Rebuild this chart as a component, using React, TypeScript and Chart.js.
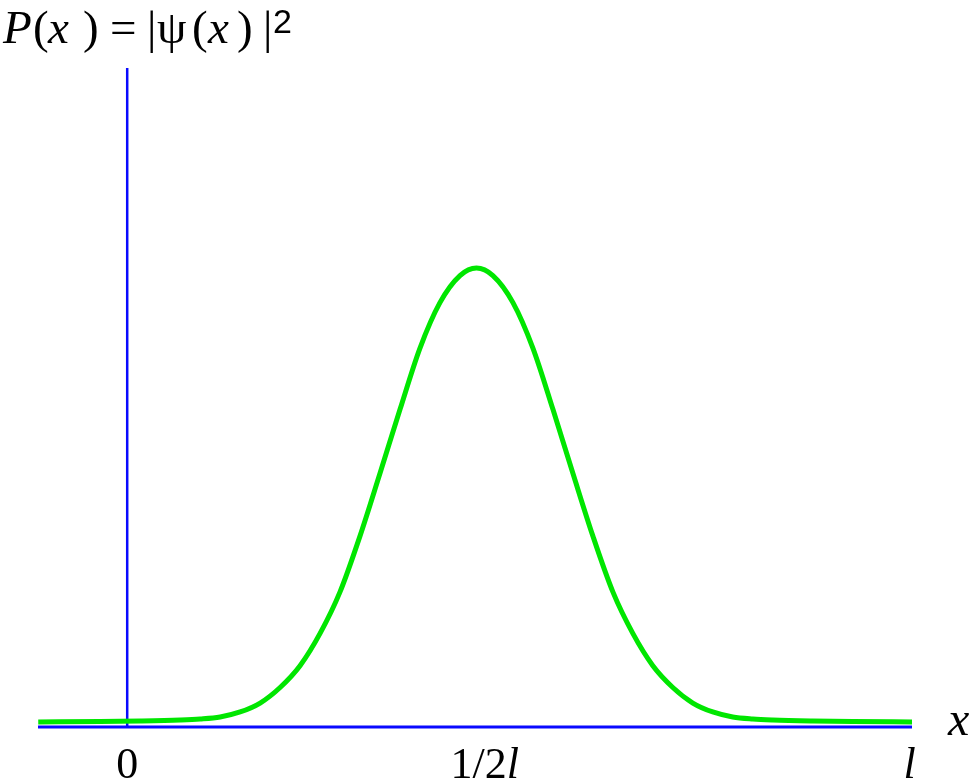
import React, { useEffect, useRef } from "react";
import { Chart, registerables } from "chart.js";

Chart.register(...registerables);

// Position along the box, in units of l (0 = left wall, 1 = right wall)
const positions: number[] = [
  -0.1137, -0.0345, 0.0166, 0.0677, 0.0932, 0.1188, 0.1443, 0.1699, 0.1954,
  0.2209, 0.2465, 0.272, 0.2976, 0.3231, 0.3487, 0.3742, 0.3997, 0.4253, 0.4464,
  0.4674, 0.493, 0.5185, 0.5441, 0.5696, 0.5951, 0.6207, 0.6462, 0.6718, 0.6973,
  0.7229, 0.7484, 0.7739, 0.7995, 0.825, 0.8761, 0.9272, 1.003,
];
// Probability density P(x) = |psi(x)|^2 (relative height)
const density: number[] = [
  0.0076, 0.0083, 0.0091, 0.0106, 0.0121, 0.0152, 0.0228, 0.0364, 0.06,
  0.093, 0.142, 0.205, 0.29, 0.385, 0.482, 0.575, 0.644, 0.685, 0.6965,
  0.685, 0.644, 0.575, 0.482, 0.385, 0.29, 0.205, 0.142, 0.093, 0.06,
  0.0364, 0.0228, 0.0152, 0.0121, 0.0106, 0.0091, 0.0083, 0.0076,
];
// Axis tick marks
const tickValues: number[] = [0, 0.457, 1];
const tickMain: string[] = ["0", "1/2", ""];
const tickItalic: string[] = ["", "l", "l"];

const SERIF = '"Liberation Serif", "Times New Roman", serif';

const axesPlugin = {
  id: "axesAndLabels",
  beforeDatasetsDraw(chart: any) {
    const { ctx, scales } = chart;
    const xs = scales.x;
    const ys = scales.y;
    ctx.save();
    ctx.strokeStyle = "#0a0aff";
    ctx.lineWidth = 3;
    const y0 = ys.getPixelForValue(0);
    ctx.beginPath();
    ctx.moveTo(xs.getPixelForValue(xs.min), y0);
    ctx.lineTo(xs.getPixelForValue(xs.max), y0);
    ctx.stroke();
    const x0 = xs.getPixelForValue(0);
    ctx.lineWidth = 2.5;
    ctx.beginPath();
    ctx.moveTo(x0, ys.getPixelForValue(ys.max));
    ctx.lineTo(x0, y0);
    ctx.stroke();
    ctx.restore();
  },
  afterDraw(chart: any) {
    const { ctx, scales } = chart;
    const xs = scales.x;
    const ys = scales.y;
    ctx.save();
    ctx.fillStyle = "#000";
    ctx.textBaseline = "alphabetic";
    ctx.textAlign = "left";
    const base = ys.getPixelForValue(0) + 51;
    tickValues.forEach((v, i) => {
      const px = xs.getPixelForValue(v);
      ctx.font = `44px ${SERIF}`;
      const w1 = ctx.measureText(tickMain[i]).width;
      ctx.font = `italic 44px ${SERIF}`;
      const w2 = ctx.measureText(tickItalic[i]).width;
      const start = px - (w1 + w2) / 2;
      ctx.font = `44px ${SERIF}`;
      ctx.fillText(tickMain[i], start, base);
      ctx.font = `italic 44px ${SERIF}`;
      ctx.fillText(tickItalic[i], start + w1, base);
    });
    ctx.font = `italic 48px ${SERIF}`;
    ctx.fillText("x", xs.right + 36, ys.getPixelForValue(0) + 8);

    const pieces: [string, number, boolean][] = [
      ["P", 3, true],
      ["(", 33, false],
      ["x", 48, true],
      [")", 83, false],
      ["=", 110, false],
      ["|", 147, false],
      ["ψ", 157, false],
      ["(", 192, false],
      ["x", 208, true],
      [")", 237, false],
      ["|", 263, false],
    ];
    pieces.forEach(([t, x, it]) => {
      ctx.font = `${it ? "italic " : ""}47px ${SERIF}`;
      ctx.fillText(t, x, 43);
    });
    ctx.font = `34px "Liberation Sans", sans-serif`;
    ctx.fillText("2", 273, 33);
    ctx.restore();
  },
};

export default function App() {
  const ref = useRef<HTMLCanvasElement | null>(null);
  useEffect(() => {
    document.body.style.margin = "0";
    if (!ref.current) return;
    const chart = new Chart(ref.current, {
      type: "line",
      data: {
        datasets: [
          {
            data: positions.map((x, i) => ({ x, y: density[i] })),
            borderColor: "#00e600",
            borderWidth: 5,
            pointRadius: 0,
            cubicInterpolationMode: "monotone",
            fill: false,
            clip: false as any,
          },
        ],
      },
      options: {
        animation: false,
        responsive: true,
        maintainAspectRatio: false,
        layout: { padding: { left: 38, right: 62, top: 68, bottom: 56 } },
        plugins: { legend: { display: false }, tooltip: { enabled: false }, title: { display: false } },
        scales: {
          x: { type: "linear", min: -0.114, max: 1.003, display: false },
          y: { type: "linear", min: 0, max: 1, display: false },
        },
      },
      plugins: [axesPlugin],
    });
    return () => chart.destroy();
  }, []);
  return (
    <div style={{ width: 974, height: 783, position: "relative", background: "#fff" }}>
      <canvas ref={ref} />
    </div>
  );
}
